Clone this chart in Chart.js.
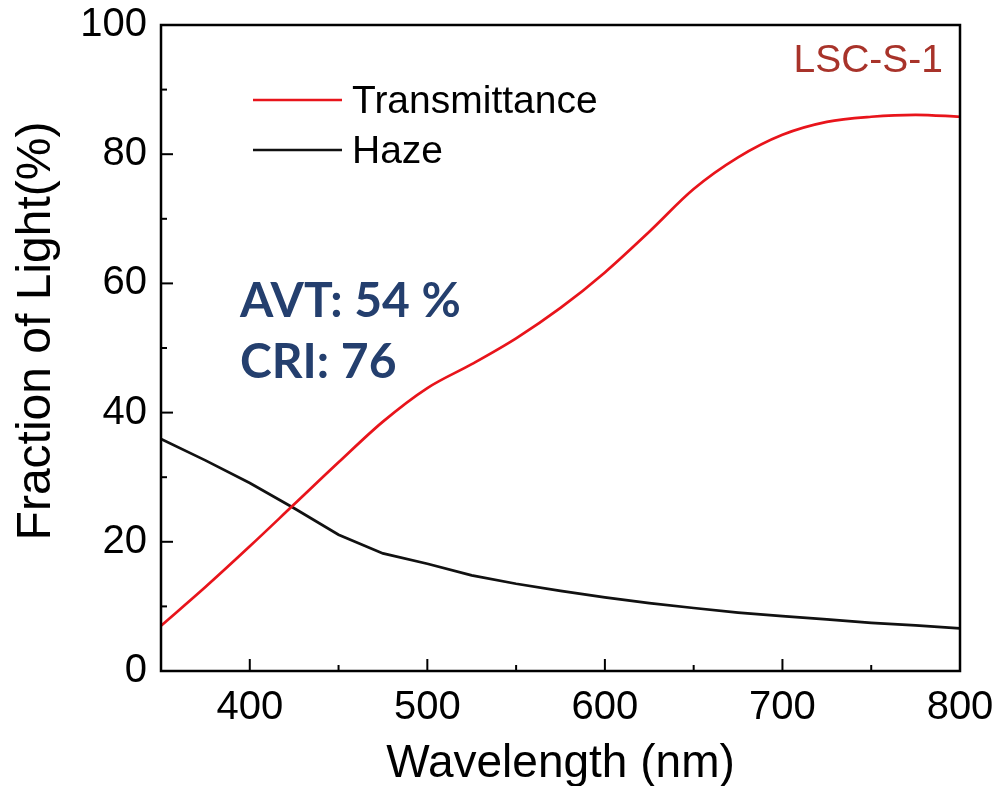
<!DOCTYPE html>
<html>
<head>
<meta charset="utf-8">
<script src="https://cdn.jsdelivr.net/npm/chart.js@4.4.1/dist/chart.umd.min.js"></script>
<style>
  html, body { margin: 0; padding: 0; background: #ffffff; }
  #wrap { width: 1002px; height: 786px; }
</style>
</head>
<body>
<div id="wrap"><canvas id="c" width="1002" height="786"></canvas></div>
<script>
// Wavelength samples (nm)
const wavelength = [350, 375, 400, 425, 450, 475, 500, 525, 550, 575, 600, 625, 650, 675, 700, 725, 750, 775, 800];
// Transmittance (%)
const transmittance = [7.0, 13.0, 19.3, 25.8, 32.3, 38.6, 43.8, 47.5, 51.5, 56.2, 61.7, 68.0, 74.6, 79.5, 83.0, 85.0, 85.8, 86.1, 85.8];
// Haze (%)
const haze = [35.9, 32.6, 29.1, 25.2, 21.1, 18.2, 16.6, 14.8, 13.5, 12.4, 11.4, 10.5, 9.75, 9.05, 8.5, 8.0, 7.45, 7.05, 6.6];

const seriesNames = ['Transmittance', 'Haze'];
const seriesColors = ['#e8141b', '#111111'];

const xTicks = [400, 500, 600, 700, 800];
const xMinorTicks = [350, 450, 550, 650, 750];
const yTicks = [0, 20, 40, 60, 80, 100];
const yMinorTicks = [10, 30, 50, 70, 90];

const sampleName = 'LSC-S-1';
const metricLines = ['AVT: 54 %', 'CRI: 76'];
const xTitle = 'Wavelength (nm)';
const yTitle = 'Fraction of Light(%)';

const SANS = '"Liberation Sans", Arial, sans-serif';

function pts(ys) { return wavelength.map((x, i) => ({ x: x, y: ys[i] })); }

// Frame, inward ticks, axis titles, legend and text labels
const decorations = {
  id: 'decorations',
  afterDraw(chart) {
    const ctx = chart.ctx;
    const a = chart.chartArea;
    const xs = chart.scales.x, ys = chart.scales.y;
    ctx.save();
    ctx.strokeStyle = '#000';
    ctx.lineWidth = 2.5;
    ctx.lineCap = 'butt';
    ctx.strokeRect(a.left, a.top, a.right - a.left, a.bottom - a.top);

    ctx.lineWidth = 2;
    const tick = (x1, y1, x2, y2) => { ctx.beginPath(); ctx.moveTo(x1, y1); ctx.lineTo(x2, y2); ctx.stroke(); };
    xTicks.forEach(v => { const p = xs.getPixelForValue(v); if (p < a.right - 2) tick(p, a.bottom, p, a.bottom - 12); });
    xMinorTicks.forEach(v => { const p = xs.getPixelForValue(v); if (p > a.left + 2) tick(p, a.bottom, p, a.bottom - 6); });
    yTicks.forEach(v => { const p = ys.getPixelForValue(v); if (p > a.top + 2 && p < a.bottom - 2) tick(a.left, p, a.left + 12, p); });
    yMinorTicks.forEach(v => { const p = ys.getPixelForValue(v); tick(a.left, p, a.left + 6, p); });

    // axis titles
    ctx.fillStyle = '#000';
    ctx.font = '46px ' + SANS;
    ctx.textAlign = 'center';
    ctx.textBaseline = 'alphabetic';
    ctx.fillText(xTitle, (a.left + a.right) / 2, 777);

    ctx.save();
    ctx.translate(50, 331);
    ctx.rotate(-Math.PI / 2);
    ctx.font = '48px ' + SANS;
    ctx.fillText(yTitle, 0, 0);
    ctx.restore();

    // legend
    ctx.font = '39px ' + SANS;
    ctx.textAlign = 'left';
    const legendY = [100, 150];
    const textBase = [113, 163];
    chart.data.datasets.forEach((ds, i) => {
      ctx.strokeStyle = ds.borderColor;
      ctx.lineWidth = 2.5;
      tick(253, legendY[i], 342, legendY[i]);
      ctx.fillStyle = '#000';
      ctx.fillText(ds.label, 352, textBase[i]);
    });

    // sample name
    ctx.fillStyle = '#a8332a';
    ctx.font = '39px ' + SANS;
    ctx.textAlign = 'right';
    ctx.fillText(sampleName, 943, 72);

    // metrics
    ctx.fillStyle = '#243f6e';
    ctx.font = 'bold 48px Lato, "Open Sans", sans-serif';
    ctx.textAlign = 'left';
    ctx.fillText(metricLines[0], 240, 317);
    ctx.fillText(metricLines[1], 240, 378);
    ctx.restore();
  }
};

new Chart(document.getElementById('c'), {
  type: 'line',
  data: {
    datasets: [
      { label: seriesNames[0], data: pts(transmittance), borderColor: seriesColors[0], borderWidth: 2.7,
        pointRadius: 0, cubicInterpolationMode: 'monotone', fill: false },
      { label: seriesNames[1], data: pts(haze), borderColor: seriesColors[1], borderWidth: 2.7,
        pointRadius: 0, tension: 0, fill: false }
    ]
  },
  options: {
    responsive: false,
    animation: false,
    events: [],
    layout: { padding: { left: 0, top: 25, right: 42, bottom: 0 } },
    plugins: { legend: { display: false }, tooltip: { enabled: false } },
    scales: {
      x: {
        type: 'linear', min: 350, max: 800,
        grid: { display: false, drawTicks: false },
        border: { display: false },
        afterBuildTicks: s => { s.ticks = xTicks.map(v => ({ value: v })); },
        afterFit: s => { s.height = 115; s.paddingLeft = 0; s.paddingRight = 0; },
        ticks: { color: '#000', font: { family: SANS, size: 40 }, padding: 13, maxRotation: 0, autoSkip: false }
      },
      y: {
        type: 'linear', min: 0, max: 100,
        grid: { display: false, drawTicks: false },
        border: { display: false },
        afterBuildTicks: s => { s.ticks = yTicks.map(v => ({ value: v })); },
        afterFit: s => { s.width = 161; s.paddingTop = 0; s.paddingBottom = 0; },
        ticks: { color: '#000', font: { family: SANS, size: 40 }, padding: 14 }
      }
    }
  },
  plugins: [decorations]
});
</script>
</body>
</html>
